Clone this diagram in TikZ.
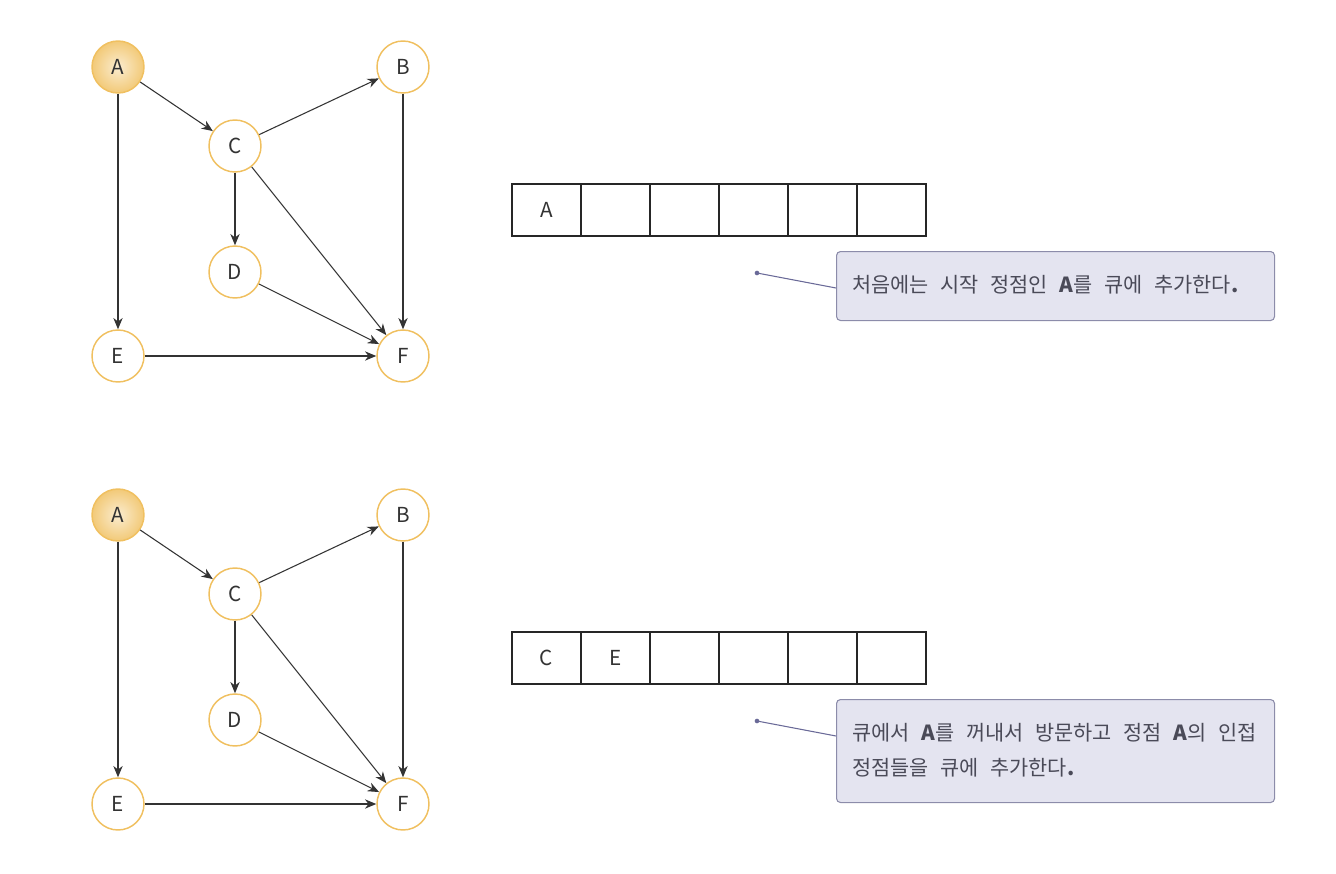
\documentclass[tikz,border=0pt]{standalone}
\usepackage{fontspec}
\setmainfont{Noto Sans CJK KR}
\usetikzlibrary{arrows.meta}
\definecolor{ring}{HTML}{F0C060}
\definecolor{ink}{HTML}{333333}
\definecolor{txt}{HTML}{4A4A58}
\definecolor{boxfill}{HTML}{E4E4F0}
\definecolor{boxline}{HTML}{8C8CAA}
\definecolor{ptr}{HTML}{6A6A98}
\tikzset{
  vert/.style={circle, draw=ring, line width=1.1pt, fill=white, minimum size=39pt, inner sep=0pt, text=ink, font=\fontsize{15.5}{17}\selectfont},
  start/.style={vert, shading=radial, inner color=ring!30, outer color=ring!85},
  edge/.style={draw=ink, line width=0.8pt, -{Stealth[length=8.5pt,width=7pt]}},
  cell/.style={draw=black!85, line width=0.8pt, minimum width=51.75pt, minimum height=39pt, inner sep=0pt, text=ink, font=\fontsize{15.5}{17}\selectfont},
  note/.style={draw=boxline, fill=boxfill, rounded corners=3pt, line width=0.8pt, anchor=north west, inner sep=0pt},
  notetext/.style={anchor=west, inner sep=0pt, text=txt, font=\fontsize{15.6}{18}\selectfont},
  pointer/.style={draw=ptr, line width=0.8pt},
  dot/.style={circle, fill=ptr, inner sep=0pt, minimum size=3.5pt},
}
\newcommand{\gp}{\hspace{8.8pt}}
\begin{document}
\begin{tikzpicture}[x=0.75pt, y=-0.75pt]
\useasboundingbox (0,0) rectangle (1336,874);
\foreach \k/\dy in {1/0, 2/448}{
  \node[start] (A\k) at (118,67+\dy) {A};
  \node[vert] (B\k) at (403,67+\dy) {B};
  \node[vert] (C\k) at (235,146+\dy) {C};
  \node[vert] (D\k) at (235,272+\dy) {D};
  \node[vert] (E\k) at (118,356+\dy) {E};
  \node[vert] (F\k) at (403,356+\dy) {F};
  \draw[edge] (A\k) -- (C\k);
  \draw[edge] (A\k) -- (E\k);
  \draw[edge] (C\k) -- (B\k);
  \draw[edge] (C\k) -- (D\k);
  \draw[edge] (C\k) -- (F\k);
  \draw[edge] (B\k) -- (F\k);
  \draw[edge] (D\k) -- (F\k);
  \draw[edge] (E\k) -- (F\k);
  \foreach \j in {1,...,6}{
    \node[cell] (q\k\j) at ({512+69*(\j-0.5)},210+\dy) {};
  }
}
\node[text=ink, font=\fontsize{15.5}{17}\selectfont] at (q11) {A};
\node[text=ink, font=\fontsize{15.5}{17}\selectfont] at (q21) {C};
\node[text=ink, font=\fontsize{15.5}{17}\selectfont] at (q22) {E};
% callouts
\node[note, minimum width=328.5pt, minimum height=51.75pt] (n1) at (836,251) {};
\node[notetext] at (852,285)
  {처음에는\gp 시작\gp 정점인\gp \textbf{A}를\gp 큐에\gp 추가한다\textbf{.}};
\coordinate (p1) at (757,273);
\coordinate (t1) at (836,288);
\node[dot] (d1) at (p1) {};
\draw[pointer] (d1.center) -- (t1);

\node[note, minimum width=328.5pt, minimum height=77.25pt] (n2) at (836,699) {};
\node[notetext] at (852,733)
  {큐에서\gp \textbf{A}를\gp 꺼내서\gp 방문하고\gp 정점\gp \textbf{A}의\gp 인접};
\node[notetext] at (852,768)
  {정점들을\gp 큐에\gp 추가한다\textbf{.}};
\coordinate (p2) at (757,721);
\coordinate (t2) at (836,736);
\node[dot] (d2) at (p2) {};
\draw[pointer] (d2.center) -- (t2);
\end{tikzpicture}
\end{document}
